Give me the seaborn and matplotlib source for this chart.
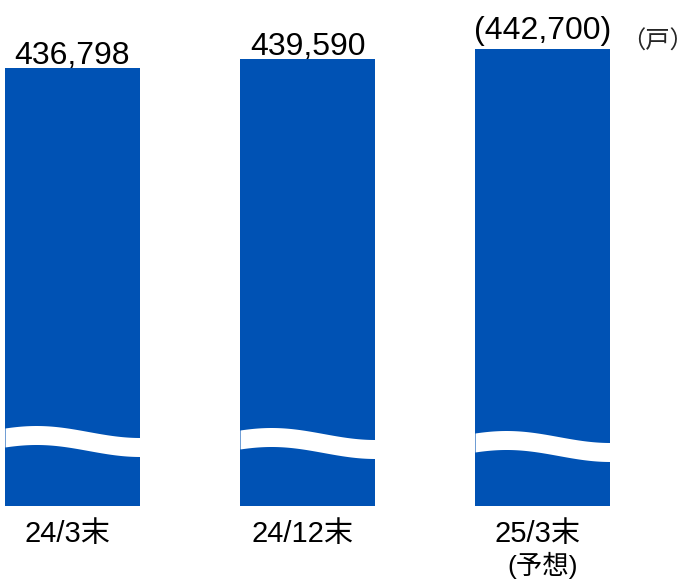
import numpy as np
import pandas as pd
import matplotlib
matplotlib.use("Agg")
import matplotlib.pyplot as plt
import matplotlib.transforms as mtransforms
import seaborn as sns

# data
periods = ["24/3末", "24/12末", "25/3末"]
period_notes = ["", "", "(予想)"]
households = [436798, 439590, 442700]
value_labels = ["436,798", "439,590", "(442,700)"]
unit_label = "（戸）"

df = pd.DataFrame({"period": periods, "households": households})

sns.set_theme(style="white")
plt.rcParams["font.family"] = ["Liberation Sans", "Noto Sans CJK JP", "DejaVu Sans"]

blue = "#0052b4"
y0, y1 = 300755, 457920  # axis range (broken axis, shown by the wave)

fig = plt.figure(figsize=(6.97, 5.8), dpi=100)
ax = fig.add_axes([0, 74 / 580, 1, 506 / 580])

sns.barplot(data=df, x="period", y="households", color=blue, saturation=1,
            width=0.574, linewidth=0, ax=ax)

ax.set_xlim(-0.3085, 2.6574)
ax.set_ylim(y0, y1)
px = (y1 - y0) / 506  # data units per pixel

# value labels above bars
label_gap = [4, 4, 10]
for i, (v, lab) in enumerate(zip(households, value_labels)):
    ax.text(i, v + label_gap[i] * px, lab, ha="center", va="baseline",
            fontsize=23, color="black")

# wavy white break across each bar
wave_base = [441, 443, 446]
band = 19
for i, base in enumerate(wave_base):
    t = np.linspace(0, 1, 200)
    xs = i - 0.287 + t * 0.574
    centre = base - 6 * np.sin(np.pi * (t * 1.3 + 0.2))
    lo = y0 + (506 - (centre + band / 2)) * px
    hi = y0 + (506 - (centre - band / 2)) * px
    ax.fill_between(xs, lo, hi, color="white", linewidth=0, zorder=5)

# category labels
ax.set_xticks(range(len(periods)))
ax.set_xticklabels([])
trans = mtransforms.blended_transform_factory(ax.transData, fig.transFigure)
for i, (p, n) in enumerate(zip(periods, period_notes)):
    ax.text(i - 0.02, (580 - 542) / 580, p, transform=trans, ha="center",
            va="baseline", fontsize=21, color="black")
    if n:
        ax.text(i, (580 - 574) / 580, n, transform=trans, ha="center",
                va="baseline", fontsize=19, color="black")

# unit label
fig.text(658 / 697, 1 - 42 / 580, unit_label, ha="center", va="center",
         fontsize=17.5, family=["Noto Sans CJK JP", "DejaVu Sans"])

ax.set_xlabel("")
ax.set_ylabel("")
ax.set_yticks([])
ax.tick_params(axis="x", length=0)
for s in ax.spines.values():
    s.set_visible(False)

fig.savefig("out.png", dpi=100, facecolor="white")
